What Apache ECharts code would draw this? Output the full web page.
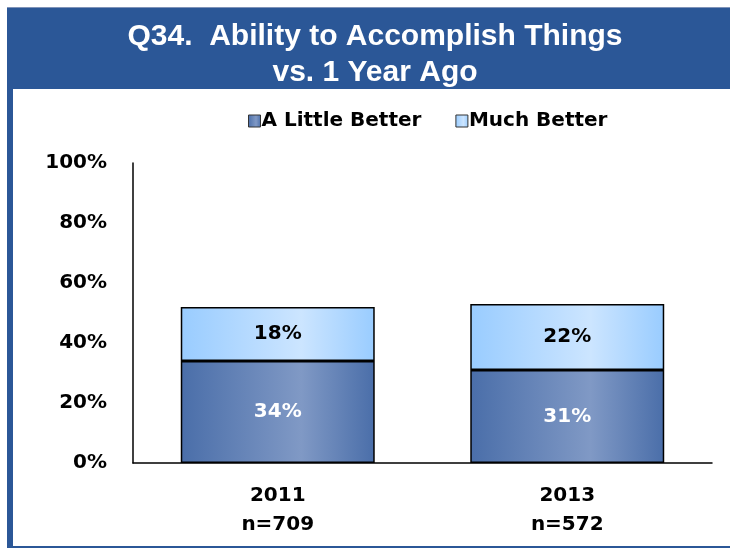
<!DOCTYPE html>
<html>
<head>
<meta charset="utf-8">
<script src="https://cdn.jsdelivr.net/npm/echarts@6/dist/echarts.min.js"></script>
<style>
html,body{margin:0;padding:0;background:#fff;}
#chart{width:730px;height:548px;}
</style>
</head>
<body>
<div id="chart"></div>
<script>
var years = ['2011', '2013'];
var sampleSizes = ['n=709', 'n=572'];
var littleBetter = [34, 31];
var muchBetter = [18, 22];
var totals = [52, 53];
var yTicks = [0, 20, 40, 60, 80, 100];

var chart = echarts.init(document.getElementById('chart'), null, {renderer: 'canvas'});
var font = 'DejaVu Sans, Liberation Sans, Arial, sans-serif';

function grad(c1, c2) {
  return new echarts.graphic.LinearGradient(0, 0, 1, 0, [
    {offset: 0, color: c1},
    {offset: 0.62, color: c2},
    {offset: 1, color: c1}
  ]);
}

var option = {
  animation: false,
  backgroundColor: '#ffffff',
  graphic: [
    {type: 'rect', z: -10, shape: {x: 7, y: 7, width: 723, height: 1}, style: {fill: '#7F93B8'}},
    {type: 'rect', z: -10, shape: {x: 7, y: 8, width: 723, height: 81}, style: {fill: '#2B5797'}},
    {type: 'rect', z: -10, shape: {x: 7, y: 8, width: 6, height: 540}, style: {fill: '#2B5797'}},
    {type: 'rect', z: -10, shape: {x: 7, y: 546, width: 723, height: 2}, style: {fill: '#2B5797'}}
  ],
  title: {
    text: 'Q34.  Ability to Accomplish Things\nvs. 1 Year Ago',
    left: 370,
    textAlign: 'center',
    top: 14,
    textStyle: {
      color: '#ffffff',
      fontFamily: 'Liberation Sans Narrow, Arial Narrow, Liberation Sans, Arial, sans-serif',
      fontWeight: 'bold',
      fontSize: 30,
      lineHeight: 36
    }
  },
  legend: {
    data: ['A Little Better', 'Much Better'],
    top: 106,
    left: 243,
    itemWidth: 12,
    itemHeight: 12,
    itemGap: 34,
    icon: 'rect',
    itemStyle: {borderColor: '#333', borderWidth: 1},
    textStyle: {fontFamily: font, fontWeight: 'bold', fontSize: 20, color: '#000', padding: [0, 0, 0, -4]}
  },
  grid: {left: 133, right: 18, top: 163, bottom: 85},
  xAxis: {
    type: 'category',
    data: years,
    axisLine: {lineStyle: {color: '#000', width: 1.5}},
    axisTick: {show: false},
    axisLabel: {
      formatter: function (v, i) { return v + '\n' + sampleSizes[i]; },
      fontFamily: font, fontWeight: 'bold', fontSize: 20, color: '#000',
      lineHeight: 29, margin: 18
    }
  },
  yAxis: {
    type: 'value',
    min: yTicks[0],
    max: yTicks[yTicks.length - 1],
    interval: 20,
    axisLine: {show: true, lineStyle: {color: '#000', width: 1.5}},
    axisTick: {show: false},
    splitLine: {show: false},
    axisLabel: {
      formatter: '{value}%',
      fontFamily: font, fontWeight: 'bold', fontSize: 20, color: '#000',
      margin: 26
    }
  },
  series: [
    {
      name: 'A Little Better',
      type: 'bar',
      stack: 'total',
      barWidth: '67%',
      data: littleBetter,
      itemStyle: {color: grad('#4A6EA9', '#8099C5'), borderColor: '#000', borderWidth: 1.5},
      label: {
        show: true, position: 'inside', formatter: '{c}%',
        color: '#ffffff', fontFamily: font, fontWeight: 'bold', fontSize: 20
      }
    },
    {
      name: 'Much Better',
      type: 'bar',
      stack: 'total',
      data: muchBetter,
      itemStyle: {color: grad('#99CCFF', '#CCE5FF'), borderColor: '#000', borderWidth: 1.5},
      label: {
        show: true, position: 'inside', formatter: '{c}%',
        color: '#000', fontFamily: font, fontWeight: 'bold', fontSize: 20
      }
    },
    {
      name: 'Total',
      type: 'line',
      data: totals,
      symbol: 'none',
      lineStyle: {opacity: 0},
      silent: true,
      label: {
        show: true, position: 'top', distance: 14, formatter: '{c}%',
        color: '#000', fontFamily: font, fontWeight: 'bold', fontSize: 20
      }
    }
  ]
};
chart.setOption(option);
</script>
</body>
</html>
